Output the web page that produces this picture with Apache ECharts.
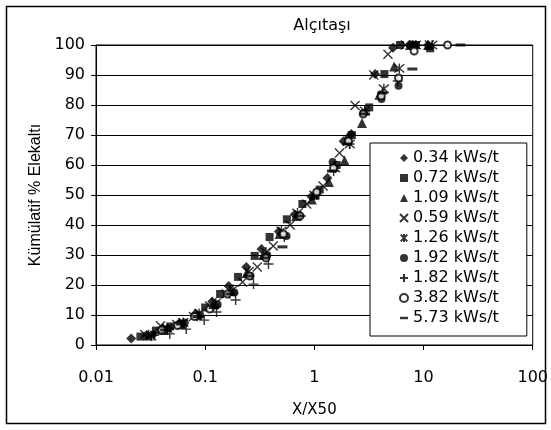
<!DOCTYPE html>
<html>
<head>
<meta charset="utf-8">
<script src="https://cdn.jsdelivr.net/npm/echarts@6/dist/echarts.min.js"></script>
<style>html,body{margin:0;padding:0;background:#fff}#c{width:551px;height:430px}</style>
</head>
<body>
<div id="c"></div>
<script>
const title = 'Alçıtaşı';
const xName = 'X/X50';
const yName = 'Kümülatif % Elekaltı';
const xTickLabels = ['0.01', '0.1', '1', '10', '100'];
const seriesNames = ['0.34 kWs/t', '0.72 kWs/t', '1.09 kWs/t', '0.59 kWs/t', '1.26 kWs/t', '1.92 kWs/t', '1.82 kWs/t', '3.82 kWs/t', '5.73 kWs/t'];

const s1x = [0.021,0.029,0.041,0.058,0.082,0.116,0.164,0.238,0.328,0.473,0.66,0.94,1.315,1.85,2.18,3.6,5.25,7.5,11];
const s1y = [2.2,3.3,5.5,7.3,10.5,14.5,19.7,26,32,37.8,43.5,49.5,55.7,67.9,70.3,90.3,99.1,100,100];
const s2x = [0.0255,0.0354,0.048,0.061,0.1,0.137,0.2,0.284,0.389,0.56,0.777,1.12,1.6,2.2,3.18,4.38,6.1,8.5,11.5];
const s2y = [2.8,4.8,6.2,7,12.5,17,22.7,29.7,36,41.9,47,51.8,60,70,79.2,90.3,100,100,98.9];
const s3x = [0.03,0.042,0.06,0.085,0.12,0.17,0.24,0.34,0.48,0.68,0.95,1.36,1.89,2.73,3.94,5.38,7.5,11];
const s3y = [3.2,5,7,10,13.5,18,24,30,37,43,48.5,54.3,61.5,74,83.4,92.8,100,100];
const s4x = [0.028,0.039,0.055,0.078,0.11,0.155,0.22,0.3,0.42,0.6,0.85,1.2,1.7,2.36,3.5,4.72,6.8,11.3];
const s4y = [3.5,6.4,6.8,9.5,13,17,21,26,33,40,47,53,64,79.8,90,96.9,100,100];
const s5x = [0.032,0.045,0.063,0.088,0.125,0.18,0.25,0.36,0.5,0.7,1.0,1.55,2.11,2.9,4.33,6.0,8.5,12];
const s5y = [3,5.5,7.5,10.5,14,18.5,24.5,31,38,44,50,59,67,78,85.4,92.2,100,100];
const s6x = [0.033,0.046,0.065,0.09,0.13,0.185,0.26,0.37,0.556,0.72,1.05,1.47,2.05,2.83,4.12,5.9,8.3];
const s6y = [3.5,5.5,7.5,10,13.5,17.5,23,30,36.3,43,50.5,61,69,77.3,82,86.4,100];
const s7x = [0.034,0.0474,0.067,0.098,0.127,0.19,0.277,0.38,0.53,0.75,1.05,1.5,2.1,2.9,4.2,5.8,8];
const s7y = [3.2,3.7,5.3,8.3,11,15,20.3,27,36,43,50,58,67,78,84,88,100];
const s8x = [0.04,0.056,0.08,0.11,0.16,0.255,0.36,0.52,0.74,1.05,1.5,2.05,2.8,4.1,5.9,8.2,16.6];
const s8y = [5,6.5,9.5,12,17,23,29,37,43,51,59,68,77,83,89,98,100];
const s9x = [0.043,0.06,0.085,0.12,0.17,0.25,0.353,0.51,0.72,1.0,1.45,2.0,2.9,4.2,7.9,21.8];
const s9y = [5,7,9.5,12.5,17,23,29,32.7,43,49,58,67,77,84,92,100];

const xs = [s1x,s2x,s3x,s4x,s5x,s6x,s7x,s8x,s9x];
const ys = [s1y,s2y,s3y,s4y,s5y,s6y,s7y,s8y,s9y];

const FONT_H = 'DejaVu Sans, sans-serif';
const FONT_V = 'Liberation Sans, Arial, sans-serif';
const DASH = 'path://M0,0L10,0L10,3L0,3Z';
const symbols = [
  {symbol:'diamond', size:10, stroke:false},
  {symbol:'rect', size:8, stroke:false},
  {symbol:'triangle', size:10, stroke:false},
  {symbol:'path://M0,0L10,10M10,0L0,10', size:9, stroke:true},
  {symbol:'path://M0,0L10,10M10,0L0,10M5,-1L5,11', size:10, stroke:true},
  {symbol:'circle', size:8, stroke:false},
  {symbol:'path://M5,0L5,10M0,5L10,5', size:10, stroke:true},
  {symbol:'emptyCircle', size:7, stroke:false},
  {symbol:DASH, size:[10,3], stroke:false}
];

const series = seriesNames.map((name, i) => {
  const sym = symbols[i];
  const st = sym.stroke
    ? {color:'#000', borderColor:'#000', borderWidth:1.4}
    : (sym.symbol === 'emptyCircle' ? {color:'#000', borderColor:'#000', borderWidth:1} : {color:'#000', borderWidth:0});
  return {
    name: name,
    type: 'scatter',
    symbol: sym.symbol,
    symbolSize: sym.size,
    itemStyle: st,
    data: xs[i].map((x, k) => [x, ys[i][k]]),
    animation: false
  };
});

const chart = echarts.init(document.getElementById('c'), null, {renderer:'canvas'});
chart.setOption({
  backgroundColor: '#fff',
  animation: false,
  title: {
    text: title, left: 317, top: 13, textAlign: 'center',
    textStyle: {fontFamily: FONT_H, fontSize: 16, fontWeight: 'normal', color:'#000'}
  },
  grid: {left: 96, right: 13, top: 45, bottom: 85, show: true, borderColor: '#000', borderWidth: 1, backgroundColor: 'transparent'},
  legend: {
    orient: 'vertical', left: 370, top: 143,
    padding: [5, 28, 8, 29],
    itemWidth: 8, itemHeight: 8, itemGap: 0,
    backgroundColor: '#fff', borderColor: '#000', borderWidth: 1,
    textStyle: {fontFamily: FONT_H, fontSize: 16, color:'#000', lineHeight: 20},
    data: seriesNames
  },
  xAxis: {
    type: 'log', logBase: 10, min: 0.01, max: 100,
    name: xName, nameLocation: 'middle', nameGap: 58,
    nameTextStyle: {fontFamily: FONT_H, fontSize: 15, color:'#000'},
    axisLine: {lineStyle: {color:'#000', width:1}},
    axisTick: {show: true, length: 5, lineStyle: {color:'#000'}},
    minorTick: {show: false},
    splitLine: {show: false},
    axisLabel: {
      fontFamily: FONT_H, fontSize: 16, color:'#000', margin: 25,
      formatter: function (v) {
        const idx = Math.round(Math.log10(v)) + 2;
        return xTickLabels[idx] !== undefined ? xTickLabels[idx] : '';
      }
    }
  },
  yAxis: {
    type: 'value', min: 0, max: 100, interval: 10,
    name: yName, nameLocation: 'middle', nameGap: 52, nameRotate: 90,
    nameTextStyle: {fontFamily: FONT_V, fontSize: 16, color:'#000'},
    axisLine: {show: true, lineStyle: {color:'#000', width:1}},
    axisTick: {show: true, length: 5, lineStyle: {color:'#000'}},
    splitLine: {show: true, lineStyle: {color:'#000', width:1}},
    axisLabel: {fontFamily: FONT_H, fontSize: 16, color:'#000', margin: 11}
  },
  graphic: [{
    type: 'rect', shape: {x: 6.5, y: 6.5, width: 539, height: 417},
    style: {fill: 'none', stroke: '#000', lineWidth: 1.5}, silent: true, z: -1
  }],
  series: series
});
</script>
</body>
</html>
